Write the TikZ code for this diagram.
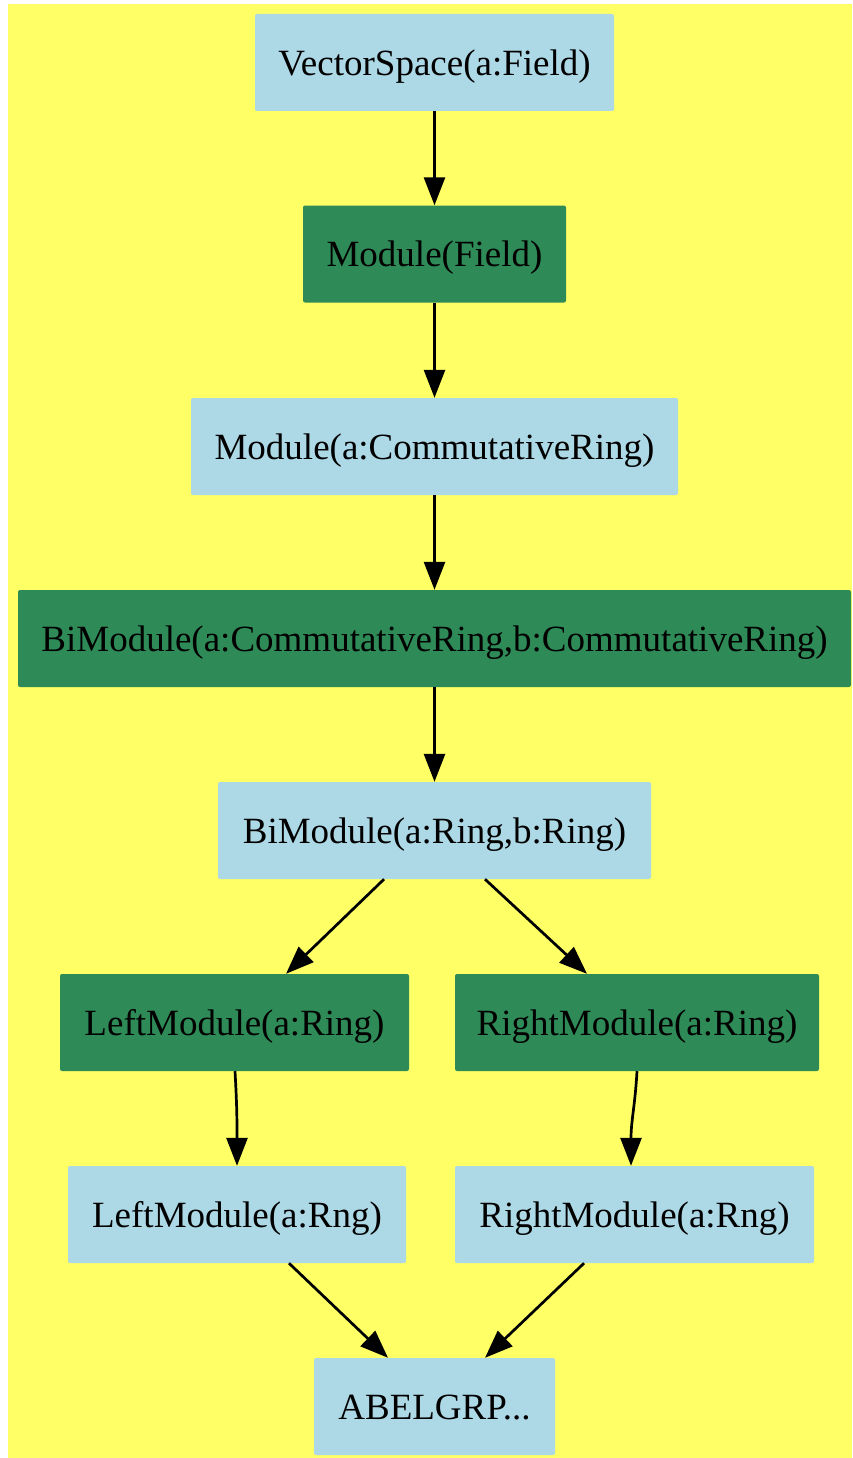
\documentclass[tikz,border=0pt]{standalone}
\usepackage{fontspec}
\setmainfont{Liberation Serif}
\usetikzlibrary{arrows.meta}
\definecolor{bgyellow}{HTML}{FFFF66}
\definecolor{lblue}{HTML}{ADD8E6}
\definecolor{sgreen}{HTML}{2E8B57}
\tikzset{
  box/.style={rectangle, rounded corners=2pt, inner sep=0pt, text=black,
    font=\fontsize{37}{41}\selectfont, minimum height=97pt,
    text height=25.6pt, text depth=0pt},
  lb/.style={box, fill=lblue},
  gr/.style={box, fill=sgreen},
  arr/.style={draw=black, line width=2.7pt, -{Triangle[length=28pt,width=21pt]}}
}
\begin{document}
\begin{tikzpicture}[x=1pt,y=-1pt]
\useasboundingbox (0,0) rectangle (852,1458);
\fill[white] (0,0) rectangle (852,1458);
\fill[bgyellow] (8,4) rectangle (852,1458);

\node[lb, minimum width=359pt] (n1) at (434.5,62.5) {VectorSpace(a:Field)};
\node[gr, minimum width=263pt] (n2) at (434.5,254) {Module(Field)};
\node[lb, minimum width=487pt] (n3) at (434.5,446.5) {Module(a:CommutativeRing)};
\node[gr, minimum width=833pt] (n4) at (434.5,638.5) {BiModule(a:CommutativeRing,b:CommutativeRing)};
\node[lb, minimum width=433pt] (n5) at (434.5,830.5) {BiModule(a:Ring,b:Ring)};
\node[gr, minimum width=349pt] (n6) at (234.5,1022.5) {LeftModule(a:Ring)};
\node[gr, minimum width=364pt] (n7) at (637,1022.5) {RightModule(a:Ring)};
\node[lb, minimum width=338pt] (n8) at (237,1214.5) {LeftModule(a:Rng)};
\node[lb, minimum width=359pt] (n9) at (634.5,1214.5) {RightModule(a:Rng)};
\node[lb, minimum width=241pt] (n10) at (434.5,1406.5) {ABELGRP...};

\draw[arr] (n1.south) -- (n2.north);
\draw[arr] (n2.south) -- (n3.north);
\draw[arr] (n3.south) -- (n4.north);
\draw[arr] (n4.south) -- (n5.north);
\draw[arr] ([xshift=-50.5pt]n5.south) -- ([xshift=51.5pt]n6.north);
\draw[arr] ([xshift=50.5pt]n5.south) -- ([xshift=-50pt]n7.north);
\draw[arr] ([xshift=0.5pt]n6.south) .. controls +(2,35) and +(0,-45) .. (n8.north);
\draw[arr] (n7.south) .. controls +(-2,35) and +(0,-45) .. ([xshift=-3.5pt]n9.north);
\draw[arr] ([xshift=52pt]n8.south) -- ([xshift=-46.5pt]n10.north);
\draw[arr] ([xshift=-50.5pt]n9.south) -- ([xshift=50.5pt]n10.north);
\end{tikzpicture}
\end{document}
